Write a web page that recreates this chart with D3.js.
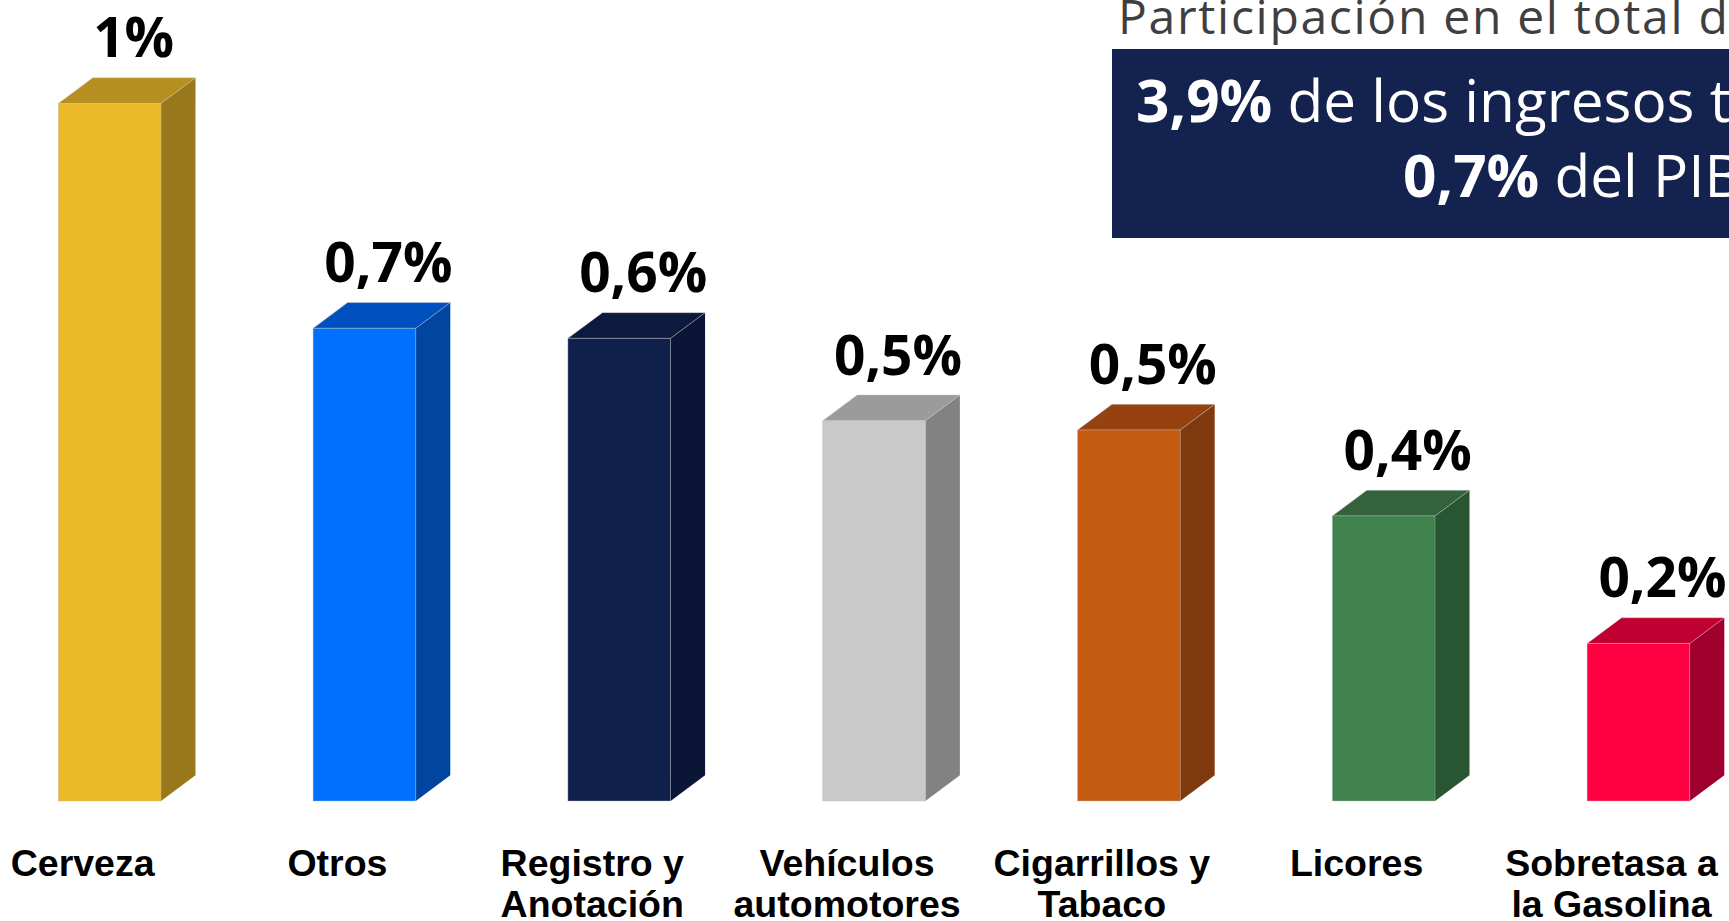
<!DOCTYPE html>
<html>
<head>
<meta charset="utf-8">
<script src="https://cdn.jsdelivr.net/npm/d3@7"></script>
<style>
  html, body { margin: 0; padding: 0; background: #ffffff; overflow: hidden; }
  svg { display: block; }
</style>
</head>
<body>
<svg id="chart" width="1729" height="921"></svg>
<script>
// ---- data ----
const categories = ["Cerveza", "Otros", "Registro y Anotación", "Vehículos automotores", "Cigarrillos y Tabaco", "Licores", "Sobretasa a la Gasolina"];
const categoryLines = [["Cerveza"], ["Otros"], ["Registro y", "Anotación"], ["Vehículos", "automotores"], ["Cigarrillos y", "Tabaco"], ["Licores"], ["Sobretasa a", "la Gasolina"]];
const values = [0.974, 0.660, 0.646, 0.531, 0.518, 0.398, 0.220];
const valueLabels = ["1%", "0,7%", "0,6%", "0,5%", "0,5%", "0,4%", "0,2%"];
const frontColors = ["#EBBA2A", "#0070FF", "#10204C", "#C9C9C9", "#C55A11", "#41834F", "#FF0040"];
const topColors   = ["#B78F21", "#0050C0", "#0D1A3F", "#9B9B9B", "#954210", "#33623D", "#BF0030"];
const sideColors  = ["#99781C", "#0046A0", "#0B1636", "#828282", "#7E390C", "#295632", "#A0002E"];
const titleText = "Participación en el total de los ingresos tributarios";
const boxLine1 = ["3,9%", " de los ingresos tributarios"];
const boxLine2 = ["0,7%", " del PIB"];

// ---- layout ----
const W = 1729, H = 921;
const baseY = 801;
const depthX = 34.5, depthY = 25.7;

const svg = d3.select("#chart");

const x = d3.scaleBand()
  .domain(categories)
  .range([58.3, 1689.8])
  .paddingInner(0.597)
  .paddingOuter(0);

const y = d3.scaleLinear()
  .domain([0, 1])
  .range([baseY, baseY - 716.2]);

const bw = x.bandwidth();
const data = categories.map((c, i) => ({c, i, v: values[i]}));

const g = svg.append("g");

const bars = g.selectAll("g.bar").data(data).join("g").attr("class", "bar");

// side face
bars.append("polygon")
  .attr("points", d => {
    const x0 = x(d.c) + bw, yt = y(d.v);
    return [[x0, yt], [x0 + depthX, yt - depthY], [x0 + depthX, baseY - depthY], [x0, baseY]].map(p => p.join(",")).join(" ");
  })
  .attr("fill", d => sideColors[d.i]);

// top face
bars.append("polygon")
  .attr("points", d => {
    const x0 = x(d.c), yt = y(d.v);
    return [[x0, yt], [x0 + depthX, yt - depthY], [x0 + bw + depthX, yt - depthY], [x0 + bw, yt]].map(p => p.join(",")).join(" ");
  })
  .attr("fill", d => topColors[d.i])
  .attr("stroke", "rgba(200,200,200,0.6)")
  .attr("stroke-width", 0.8);

// front face
bars.append("rect")
  .attr("x", d => x(d.c))
  .attr("y", d => y(d.v))
  .attr("width", bw)
  .attr("height", d => baseY - y(d.v))
  .attr("fill", d => frontColors[d.i])
  .attr("stroke", "rgba(190,190,190,0.5)")
  .attr("stroke-width", 0.8);

// value labels
bars.append("text")
  .attr("x", d => x(d.c) + bw / 2 + 24)
  .attr("y", d => y(d.v) - 46)
  .attr("text-anchor", "middle")
  .attr("font-family", "'Open Sans', sans-serif")
  .attr("font-weight", 700)
  .attr("font-size", 55)
  .attr("fill", "#000")
  .text(d => valueLabels[d.i]);

// category labels
const catText = g.selectAll("text.cat").data(data).join("text")
  .attr("class", "cat")
  .attr("text-anchor", "middle")
  .attr("font-family", "'Liberation Sans', Arial, sans-serif")
  .attr("font-weight", 700)
  .attr("font-size", 37.5)
  .attr("fill", "#000");
catText.each(function(d) {
  const t = d3.select(this);
  categoryLines[d.i].forEach((line, k) => {
    t.append("tspan")
      .attr("x", x(d.c) + bw / 2 - 27)
      .attr("y", 876 + k * 40.5)
      .text(line);
  });
});

// title
svg.append("text")
  .attr("x", 1118)
  .attr("y", 34)
  .attr("font-family", "'Open Sans', sans-serif")
  .attr("font-size", 48)
  .attr("letter-spacing", 1.7)
  .attr("fill", "#3F3F3F")
  .text(titleText);

// summary box
svg.append("rect")
  .attr("x", 1112)
  .attr("y", 49)
  .attr("width", W - 1112 + 10)
  .attr("height", 189)
  .attr("fill", "#13224E");

function boxLine(parts, xPos, yPos) {
  const t = svg.append("text")
    .attr("x", xPos)
    .attr("y", yPos)
    .attr("font-family", "'Open Sans', sans-serif")
    .attr("font-size", 58.5)
    .attr("fill", "#ffffff")
    .attr("xml:space", "preserve")
    .style("white-space", "pre");
  t.append("tspan").attr("font-weight", 700).text(parts[0]);
  t.append("tspan").attr("font-weight", 400).text(parts[1]);
}
boxLine(boxLine1, 1136, 122);
boxLine(boxLine2, 1403, 197);
</script>
</body>
</html>
